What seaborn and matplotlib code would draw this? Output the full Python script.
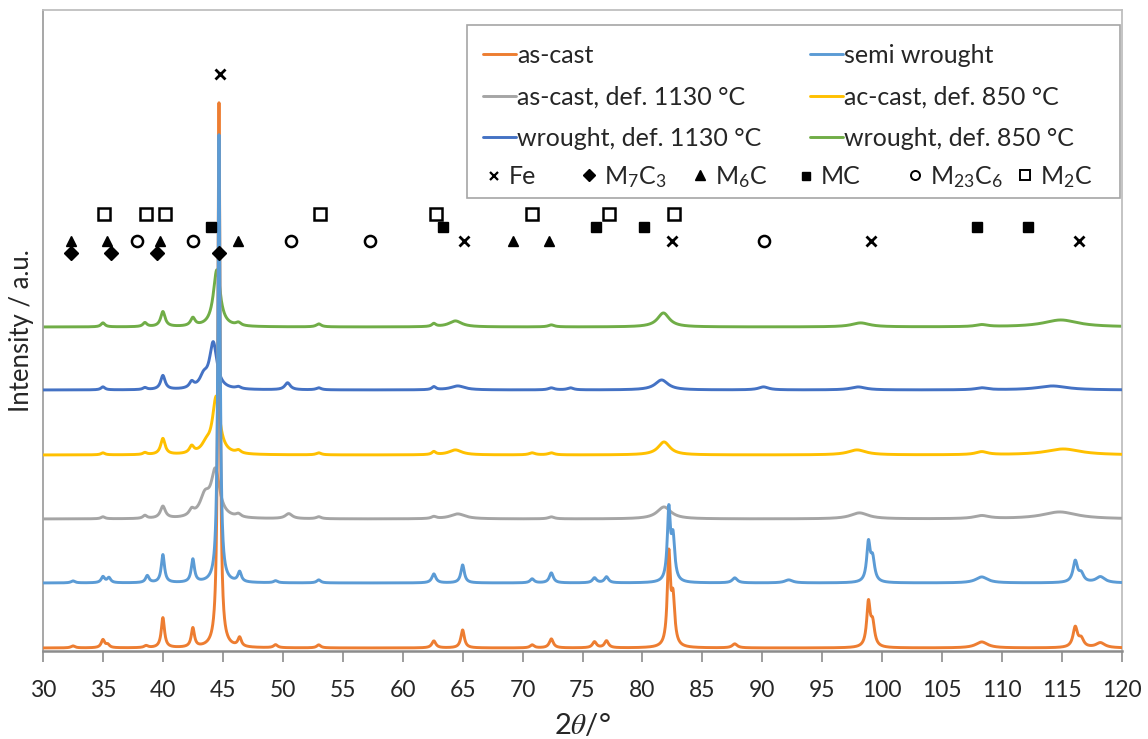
import numpy as np
import pandas as pd
import matplotlib
matplotlib.use("Agg")
import matplotlib.pyplot as plt
import seaborn as sns
from matplotlib.lines import Line2D
from matplotlib.patches import Rectangle

# ---------------- data ----------------
series_names = ["as-cast", "semi wrought", "as-cast, def. 1130 °C",
                "ac-cast, def. 850 °C", "wrought, def. 1130 °C", "wrought, def. 850 °C"]
series_colors = ["#ED7D31", "#5B9BD5", "#A5A5A5", "#FFC000", "#4472C4", "#70AD47"]
series_offsets = [3, 68, 132, 196, 261, 324]

# peak tables: position (2theta), height (a.u.), FWHM (deg)
as_cast_pos = [32.5, 35.0, 35.4, 38.6, 40.0, 42.5, 44.68, 46.4, 49.4, 53.0, 62.6, 65.0,
               70.8, 72.4, 76.0, 77.0, 82.2, 82.55, 87.7, 98.85, 99.2, 108.3, 116.1, 116.6, 118.2]
as_cast_h = [2, 8, 3, 2, 30, 19, 545, 9, 3, 3, 7, 18,
             3, 9, 6, 7, 90, 45, 4, 43, 22, 6, 20, 8, 5]
as_cast_w = [0.4, 0.35, 0.35, 0.4, 0.32, 0.32, 0.22, 0.35, 0.4, 0.4, 0.4, 0.35,
             0.4, 0.4, 0.4, 0.4, 0.3, 0.35, 0.5, 0.35, 0.4, 1.2, 0.45, 0.5, 0.9]

semi_pos = [32.5, 35.0, 35.5, 38.7, 40.0, 42.5, 44.68, 46.4, 49.4, 53.0, 62.6, 65.0,
            70.8, 72.4, 76.0, 77.0, 82.2, 82.55, 87.7, 92.2, 98.85, 99.2, 108.3, 116.1, 116.6, 118.2]
semi_h = [2, 6, 5, 7, 28, 23, 448, 10, 2, 3, 9, 18,
          4, 10, 5, 6, 70, 42, 5, 3, 38, 22, 6, 21, 8, 6]
semi_w = [0.4, 0.35, 0.35, 0.35, 0.32, 0.32, 0.22, 0.35, 0.4, 0.4, 0.4, 0.35,
          0.4, 0.4, 0.4, 0.4, 0.3, 0.35, 0.5, 0.8, 0.35, 0.4, 1.2, 0.45, 0.5, 0.9]

ac1130_pos = [35.0, 38.5, 40.0, 42.4, 43.5, 44.38, 46.3, 50.5, 53.0, 62.6, 64.6, 72.4,
              81.8, 98.1, 108.3, 114.8]
ac1130_h = [2, 3, 12, 6, 20, 46, 3, 5, 2, 2, 5, 2, 12, 6, 3, 7]
ac1130_w = [0.4, 0.4, 0.5, 0.5, 1.0, 0.85, 0.5, 0.7, 0.5, 0.5, 1.5, 0.6, 1.4, 1.8, 1.5, 3.5]

ac850_pos = [35.0, 38.5, 40.0, 42.4, 43.6, 44.45, 46.3, 53.0, 62.6, 64.4, 70.8, 72.4,
             81.8, 97.9, 108.3, 115.1]
ac850_h = [2, 2, 16, 7, 8, 57, 3, 2, 3, 5, 2, 2, 13, 5, 3, 6]
ac850_w = [0.4, 0.4, 0.45, 0.45, 0.9, 0.75, 0.5, 0.5, 0.4, 1.3, 0.6, 0.6, 1.2, 1.8, 1.2, 3.5]

w1130_pos = [35.0, 38.5, 40.0, 42.4, 43.4, 44.2, 46.3, 50.4, 53.0, 62.6, 64.6, 72.4,
             74.0, 81.6, 90.1, 98.0, 108.3, 114.2]
w1130_h = [3, 2, 14, 6, 11, 46, 2, 7, 2, 3, 4, 2, 2, 10, 3, 3, 2, 4]
w1130_w = [0.4, 0.4, 0.45, 0.45, 0.8, 0.75, 0.5, 0.55, 0.5, 0.4, 1.4, 0.6, 0.6, 1.3, 1.0, 1.5, 1.2, 3.0]

w850_pos = [35.0, 38.5, 40.0, 42.5, 44.5, 46.3, 53.0, 62.6, 64.4, 72.4, 81.75, 98.2, 108.3, 114.9]
w850_h = [4, 4, 15, 8, 57, 3, 3, 3, 6, 2, 14, 4, 2, 7]
w850_w = [0.4, 0.4, 0.45, 0.45, 0.7, 0.5, 0.5, 0.4, 1.3, 0.6, 1.2, 1.8, 1.2, 3.5]

peak_tables = [(as_cast_pos, as_cast_h, as_cast_w), (semi_pos, semi_h, semi_w),
               (ac1130_pos, ac1130_h, ac1130_w), (ac850_pos, ac850_h, ac850_w),
               (w1130_pos, w1130_h, w1130_w), (w850_pos, w850_h, w850_w)]

# phase reflection markers: 2theta positions
fe_pos = [44.8, 65.1, 82.5, 99.1, 116.4]
fe_row = ["top", "mid", "mid", "mid", "mid"]
m7c3_pos = [32.3, 35.7, 39.5, 44.7]
m6c_pos = [32.3, 35.3, 39.8, 46.3, 69.2, 72.2]
mc_pos = [44.0, 63.4, 76.1, 80.1, 107.9, 112.2]
m23c6_pos = [37.8, 42.5, 50.7, 57.3, 90.1]
m2c_pos = [35.1, 38.6, 40.2, 53.1, 62.8, 70.8, 77.2, 82.6]
row_levels = {"top": 577, "m2c": 437, "mc": 424, "mid": 410.5, "m7c3": 398}

xticks = list(range(30, 121, 5))

# ---------------- style ----------------
sns.set_theme(style="white")
plt.rcParams["font.family"] = ["Lato", "DejaVu Sans"]
plt.rcParams["mathtext.fontset"] = "custom"
plt.rcParams["mathtext.rm"] = "Lato"
plt.rcParams["mathtext.it"] = "Lato:italic"
plt.rcParams["mathtext.bf"] = "Lato:bold"

W, H = 1148, 739
fig = plt.figure(figsize=(W / 100, H / 100), dpi=100)
ax = fig.add_axes([43 / W, (H - 651) / H, (1122 - 43) / W, (651 - 10) / H])

x = np.arange(30, 120.0001, 0.02)
rows = []
for name, off, (pos, hh, ww) in zip(series_names, series_offsets, peak_tables):
    y = np.full_like(x, float(off))
    for p, h, w in zip(pos, hh, ww):
        y += h / (1 + ((x - p) / (w / 2)) ** 2)
    rows.append(pd.DataFrame({"two_theta": x, "intensity": y, "sample": name}))
df = pd.concat(rows, ignore_index=True)

draw_order = [5, 4, 3, 2, 0, 1]
for i in draw_order:
    name = series_names[i]
    sub = df[df["sample"] == name]
    sns.lineplot(data=sub, x="two_theta", y="intensity", color=series_colors[i],
                 lw=2.1, ax=ax, sort=False, estimator=None, zorder=2 + draw_order.index(i),
                 legend=False)

mk = dict(linestyle="none", color="black", zorder=20)
ax.plot(fe_pos, [row_levels[r] for r in fe_row], marker="x", ms=7, mew=2.0, **mk)
ax.plot(m7c3_pos, [row_levels["m7c3"]] * len(m7c3_pos), marker="D", ms=7, **mk)
ax.plot(m6c_pos, [row_levels["mid"]] * len(m6c_pos), marker="^", ms=7.5, **mk)
ax.plot(mc_pos, [row_levels["mc"]] * len(mc_pos), marker="s", ms=7, **mk)
ax.plot(m23c6_pos, [row_levels["mid"]] * len(m23c6_pos), marker="o", ms=8,
        mfc="white", mew=1.8, **mk)
ax.plot(m2c_pos, [row_levels["m2c"]] * len(m2c_pos), marker="s", ms=8,
        mfc="white", mew=1.8, **mk)

ax.set_xlim(30, 120)
ax.set_ylim(0, 641)
ax.set_xticks(xticks)
ax.set_xticklabels([str(t) for t in xticks])
ax.set_yticks([])
ax.tick_params(axis="x", direction="out", length=8, width=1.2, color="#8c8c8c",
               labelsize=16.5, pad=13, bottom=True)
for s in ["top", "right"]:
    ax.spines[s].set_color("#bfbfbf")
    ax.spines[s].set_linewidth(1.3)
ax.spines["left"].set_color("#a0a0a0")
ax.spines["left"].set_linewidth(1.3)
ax.spines["bottom"].set_color("#8c8c8c")
ax.spines["bottom"].set_linewidth(1.8)

ax.set_xlabel(r"2$\theta$/°", fontsize=21, math_fontfamily="stix", labelpad=8)
ax.set_ylabel("Intensity / a.u.", fontsize=18.5)
ax.yaxis.set_label_coords((22 - 43) / (1122 - 43), 0.5)
ax.yaxis.label.set_va("center")

# ---------------- legend ----------------
fig.add_artist(Rectangle((467 / W, (H - 198) / H), (1120 - 467) / W, (198 - 25) / H,
                         transform=fig.transFigure, fill=False, edgecolor="#a6a6a6", lw=1.2))

leg_fs = 18
em_px = leg_fs * 100 / 72
col1 = [0, 2, 4]
col2 = [1, 3, 5]
for cols, xpx in [(col1, 483), (col2, 810)]:
    handles = [Line2D([0], [0], color=series_colors[i], lw=2.1) for i in cols]
    labels = [series_names[i] for i in cols]
    fig.legend(handles, labels, loc="center left", bbox_to_anchor=(xpx / W, 1 - 97 / H),
               bbox_transform=fig.transFigure, frameon=False, fontsize=leg_fs,
               handlelength=33 / em_px, handletextpad=0.05, borderpad=0, borderaxespad=0,
               labelspacing=0.74)

marker_items = [
    (dict(marker="x", ms=6, mew=1.6), "Fe", 494),
    (dict(marker="D", ms=6), "M$_7$C$_3$", 589),
    (dict(marker="^", ms=6.5), "M$_6$C", 700),
    (dict(marker="s", ms=6), "MC", 806),
    (dict(marker="o", ms=6.5, mfc="white", mew=1.4), "M$_{23}$C$_6$", 915),
    (dict(marker="s", ms=6.5, mfc="white", mew=1.4), "M$_2$C", 1025),
]
hl = 0.7
for style, label, mx in marker_items:
    h = Line2D([0], [0], linestyle="none", color="black", **style)
    left = mx - hl * em_px / 2
    fig.legend([h], [label], loc="center left", bbox_to_anchor=(left / W, 1 - 177 / H),
               bbox_transform=fig.transFigure, frameon=False, fontsize=leg_fs,
               handlelength=hl, handletextpad=0.25, borderpad=0, borderaxespad=0)

fig.savefig("out.png", dpi=100)
